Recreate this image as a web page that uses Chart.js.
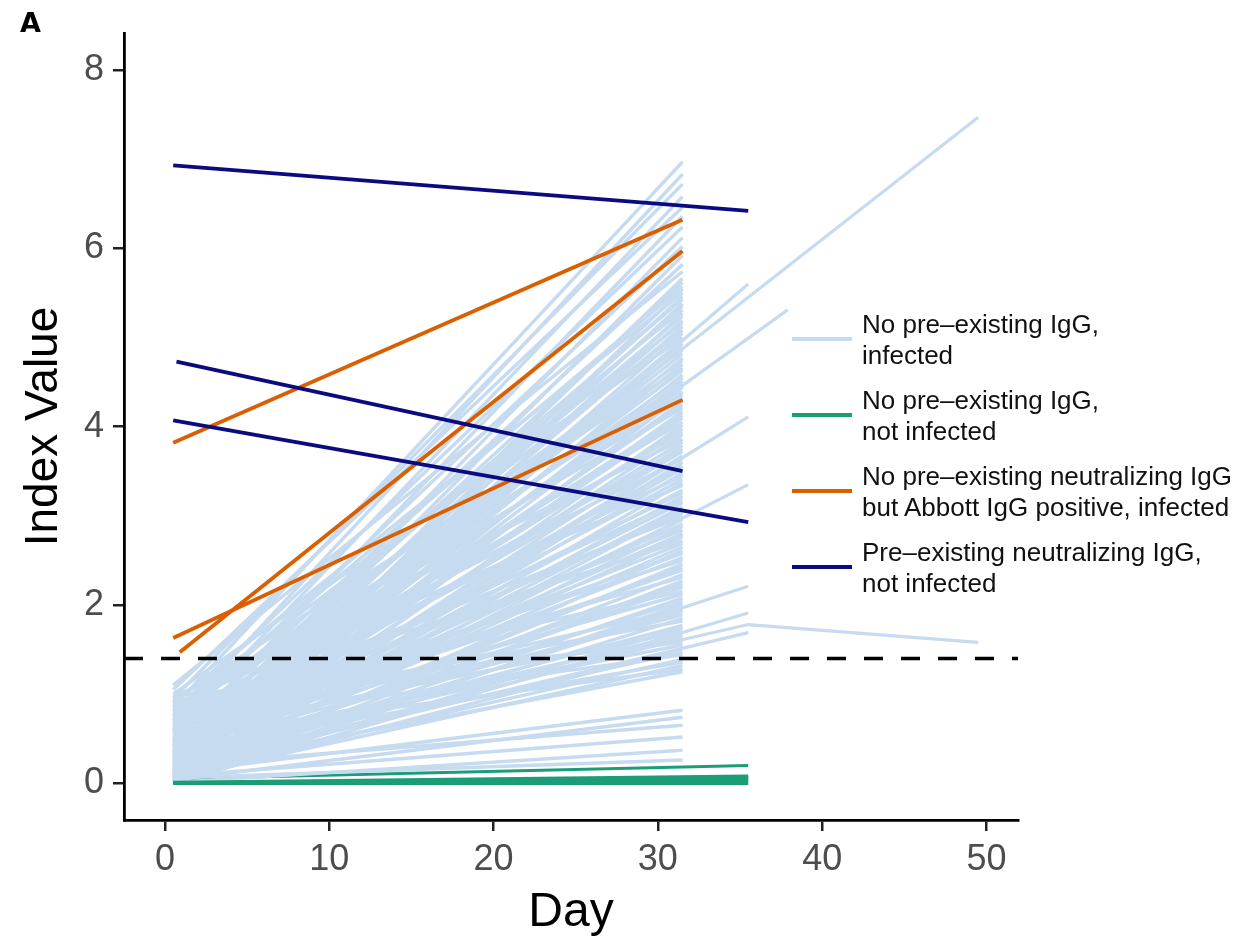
<!DOCTYPE html>
<html>
<head>
<meta charset="utf-8">
<script src="https://cdn.jsdelivr.net/npm/chart.js@4.4.1/dist/chart.umd.min.js"></script>
<style>
  html, body { margin: 0; padding: 0; background: #fff; overflow: hidden; }
  #wrap { position: relative; width: 1258px; height: 937px; overflow: hidden; }
  #c { position: absolute; left: 0; top: 0; }
  .panel { position: absolute; left: 20px; top: 7px; font: 900 27px "DejaVu Sans", "Liberation Sans", Arial, sans-serif; color: #000; }
  .leg { position: absolute; left: 792px; width: 460px; font: 26px "Liberation Sans", Arial, sans-serif; color: #111; }
  .leg .key { position: absolute; left: 0; width: 60px; height: 4px; }
  .leg .txt { position: absolute; left: 70px; line-height: 31px; white-space: nowrap; }
</style>
</head>
<body>
<div id="wrap">
  <canvas id="c" width="1258" height="950"></canvas>
  <div class="panel">A</div>
  <div id="legend"></div>
</div>
<script>
// ---------- data ----------
const xTicks = [0, 10, 20, 30, 40, 50];
const yTicks = [0, 2, 4, 6, 8];
const threshold = 1.4;

// light blue: infected, no pre-existing IgG (day 0.5 -> day 31.5)
const blueStartDay = 0.5;
const blueEndDay = 31.5;
const blueStart = [
  0.85,0.70,0.95,0.60,1.05,0.45,0.80,0.30,0.65,0.20,
  0.50,1.10,0.15,0.40,0.75,0.05,0.90,0.25,0.55,0.10,
  0.35,0.68,0.02,0.48,0.18,0.82,0.28,0.60,0.08,1.00,
  0.22,0.42,0.12,0.72,0.32,0.04,0.58,0.16,0.92,0.38,
  0.06,0.52,0.26,0.78,0.14,0.44,0.00,0.64,0.20,0.34,
  0.86,0.10,0.46,0.24,0.70,0.03,0.36,0.56,0.14,0.96,
  0.30,0.08,0.62,0.40,0.18,0.76,0.02,0.50,0.26,0.12,
  0.66,0.34,0.05,0.88,0.22,0.44,0.10,0.58,0.30,0.16,
  0.04,0.48,0.74,0.20,0.38,0.07,0.60,0.28,0.12,0.84,
  0.42,0.18,0.02,0.54,0.32,0.68,0.09,0.24,0.46,0.14,
  0.72,0.06,0.36,0.20,0.90,0.50,0.11,0.28,0.03,0.62,
  0.16,0.40,0.08,0.78,0.26,0.05,0.56,0.34,0.13,0.98,
  0.44,0.02,0.22,0.66,0.10,0.36,0.06,0.52,0.18,0.12,
  0.04,0.20,0.08,0.01,0.06
];
const blueEnd = [
  6.97,6.83,6.72,6.58,6.46,6.36,6.24,6.12,6.02,5.92,
  5.82,5.74,5.66,5.62,5.57,5.54,5.50,5.46,5.43,5.38,
  5.35,5.31,5.27,5.24,5.19,5.16,5.12,5.08,5.05,5.00,
  4.97,4.93,4.89,4.86,4.82,4.77,4.74,4.70,4.66,4.63,
  4.58,4.55,4.51,4.47,4.44,4.39,4.36,4.32,4.28,4.24,
  4.21,4.17,4.13,4.10,4.05,4.02,3.98,3.94,3.91,3.86,
  3.83,3.79,3.75,3.72,3.67,3.64,3.60,3.56,3.53,3.48,
  3.45,3.41,3.37,3.34,3.29,3.26,3.22,3.18,3.15,3.10,
  3.07,3.03,2.99,2.96,2.91,2.88,2.84,2.80,2.77,2.72,
  2.69,2.65,2.61,2.58,2.53,2.50,2.46,2.42,2.39,2.34,
  2.31,2.27,2.23,2.20,2.15,2.12,2.08,2.04,2.01,1.96,
  1.93,1.89,1.85,1.82,1.77,1.74,1.70,1.66,1.63,1.58,
  1.55,1.51,1.47,1.44,1.39,1.36,1.32,1.28,1.25,0.82,
  0.74,0.65,0.52,0.37,0.26
];
// light blue lines followed to day 35.5
const blueLateDay = 35.5;
const blueLateStart = [0.05, 0.10, 0.05, 0.10, 0.00, 0.15];
const blueLateEnd   = [5.60, 4.11, 3.35, 2.21, 1.91, 1.69];
// light blue lines followed even longer
const blueLongDays = [[0.5, 37.9], [0.5, 49.5], [0.5, 35.5, 49.5]];
const blueLongVals = [[0.35, 5.31], [0.40, 7.47], [0.30, 1.78, 1.58]];

// green: no pre-existing IgG, not infected
const greenDays = [[0.5, 35.5], [0.5, 35.5], [0.5, 35.5], [0.5, 35.5], [0.5, 35.5]];
const greenVals = [[0.00, 0.00], [0.00, 0.03], [0.00, 0.06], [0.01, 0.08], [0.05, 0.20]];

// orange: no pre-existing neutralizing IgG but Abbott IgG positive, infected
const orangeDays = [[0.5, 31.5], [0.5, 31.5], [0.9, 31.5]];
const orangeVals = [[3.82, 6.32], [1.63, 4.30], [1.47, 5.97]];

// navy: pre-existing neutralizing IgG, not infected
const navyDays = [[0.5, 35.5], [0.7, 31.5], [0.5, 35.5]];
const navyVals = [[6.93, 6.42], [4.73, 3.50], [4.07, 2.93]];

const legendLabels = [
  ["No pre\u2013existing IgG,", "infected"],
  ["No pre\u2013existing IgG,", "not infected"],
  ["No pre\u2013existing neutralizing IgG", "but Abbott IgG positive, infected"],
  ["Pre\u2013existing neutralizing IgG,", "not infected"]
];

// ---------- styling ----------
const C_BLUE = '#c6dbef', C_GREEN = '#1b9e77', C_ORANGE = '#d95f02', C_NAVY = '#0b0b80';
const X_MIN = -2.495, X_MAX = 51.92, Y_MIN = -0.412, Y_MAX = 8.415;

function seg(days, vals, color, width, order) {
  return {
    data: days.map((d, i) => ({x: d, y: vals[i]})),
    borderColor: color, backgroundColor: color, borderWidth: width,
    showLine: true, pointRadius: 0, pointHoverRadius: 0, fill: false,
    order: order, borderCapStyle: 'butt', tension: 0
  };
}

const datasets = [];
// threshold (top)
datasets.push(Object.assign(seg([X_MIN, X_MAX], [threshold, threshold], '#000', 3.5, 0),
  {borderDash: [19, 18]}));
// navy & orange
navyDays.forEach((d, i) => datasets.push(seg(d, navyVals[i], C_NAVY, 3.8, 1)));
orangeDays.forEach((d, i) => datasets.push(seg(d, orangeVals[i], C_ORANGE, 3.8, 1)));
// green thick band above blue
for (let i = 0; i < 4; i++) datasets.push(seg(greenDays[i], greenVals[i], C_GREEN, 3.5, 2));
// blue
const nB = Math.min(blueStart.length, blueEnd.length);
for (let i = 0; i < nB; i++) datasets.push(seg([blueStartDay, blueEndDay], [blueStart[i], blueEnd[i]], C_BLUE, 3.5, 3));
blueLateStart.forEach((s, i) => datasets.push(seg([blueStartDay, blueLateDay], [s, blueLateEnd[i]], C_BLUE, 3.2, 3)));
blueLongDays.forEach((d, i) => datasets.push(seg(d, blueLongVals[i], C_BLUE, 3.2, 3)));
// thin green line under the blue fan
datasets.push(seg(greenDays[4], greenVals[4], C_GREEN, 3, 4));

Chart.defaults.font.family = '"Liberation Sans", Arial, sans-serif';

new Chart(document.getElementById('c'), {
  type: 'scatter',
  data: { datasets },
  options: {
    responsive: false, animation: false, devicePixelRatio: 1,
    layout: { padding: { top: 33, right: 240, bottom: 0, left: 0 } },
    plugins: { legend: { display: false }, tooltip: { enabled: false } },
    events: [],
    scales: {
      x: {
        type: 'linear', min: X_MIN, max: X_MAX,
        afterBuildTicks: s => { s.ticks = xTicks.map(v => ({value: v})); },
        afterFit: s => { s.height = 130; },
        grid: { drawOnChartArea: false, drawTicks: true, tickLength: 11, color: '#222', lineWidth: 2.5 },
        border: { display: true, color: '#000', width: 2.8 },
        ticks: { font: { size: 36 }, color: '#4d4d4d', padding: 7, maxRotation: 0, autoSkip: false },
        title: { display: true, text: 'Day', font: { size: 48 }, color: '#000', padding: { top: 0, bottom: 8 } }
      },
      y: {
        type: 'linear', min: Y_MIN, max: Y_MAX,
        afterBuildTicks: s => { s.ticks = yTicks.map(v => ({value: v})); },
        afterFit: s => { s.width = 124; },
        grid: { drawOnChartArea: false, drawTicks: true, tickLength: 11, color: '#222', lineWidth: 2.5 },
        border: { display: true, color: '#000', width: 2.8 },
        ticks: { font: { size: 36 }, color: '#4d4d4d', padding: 9, autoSkip: false },
        title: { display: true, text: 'Index Value', font: { size: 46 }, color: '#000', padding: { top: 17, bottom: 0 } }
      }
    }
  }
});

// legend (HTML text)
const legColors = [C_BLUE, C_GREEN, C_ORANGE, C_NAVY];
const legTops = [309, 385, 461, 537];
const leg = document.getElementById('legend');
legendLabels.forEach((lines, i) => {
  const item = document.createElement('div');
  item.className = 'leg';
  item.style.top = legTops[i] + 'px';
  const key = document.createElement('div');
  key.className = 'key';
  key.style.top = '28px';
  key.style.background = legColors[i];
  const txt = document.createElement('div');
  txt.className = 'txt';
  txt.innerHTML = lines.join('<br>');
  item.appendChild(key); item.appendChild(txt);
  leg.appendChild(item);
});
</script>
</body>
</html>
